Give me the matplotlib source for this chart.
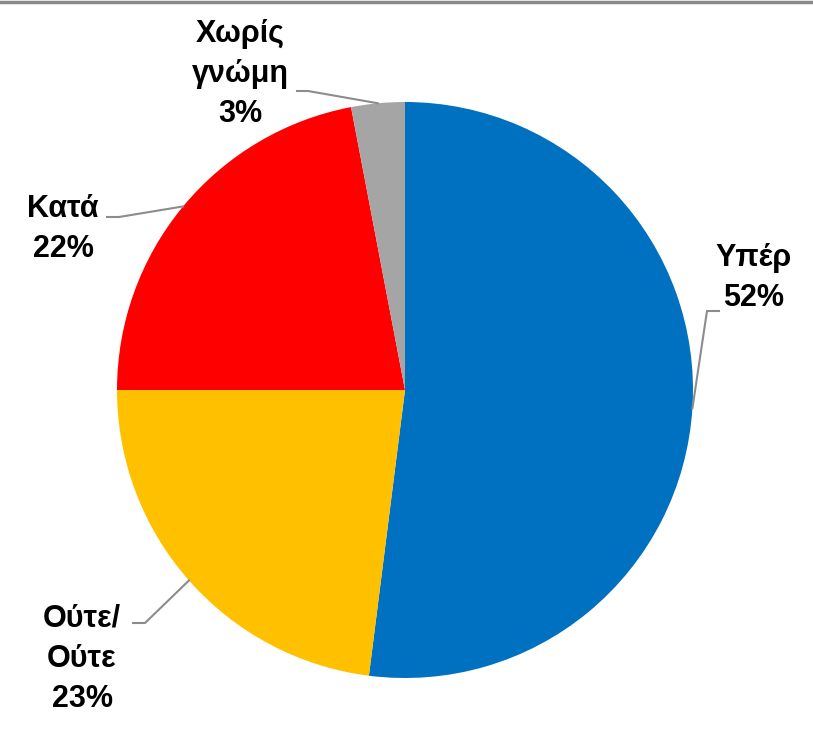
import numpy as np
import matplotlib.pyplot as plt
from matplotlib.lines import Line2D

# Data
categories = ["Υπέρ", "Ούτε/\nΟύτε", "Κατά", "Χωρίς\nγνώμη"]
values = [52, 23, 22, 3]
colors = ["#0070C0", "#FFC000", "#FF0000", "#A5A5A5"]

# Label placement (pixel positions in the 813x750 canvas): text centre, leader start, elbow
W, H = 813, 750
CX, CY, R = 405, 390, 288
label_xy = [(754, 278), (82, 659), (63, 229), (240, 74)]
leader_start = [(719, 311), (133, 623), (107, 217), (297, 91)]
leader_elbow = [(707, 311), (145, 623), (119, 217), (308, 91)]


def to_data(p):
    return ((p[0] - CX) / R, (CY - p[1]) / R)


plt.rcParams['font.family'] = ['Liberation Sans', 'DejaVu Sans']

fig = plt.figure(figsize=(W / 100, H / 100), dpi=100)
ax = fig.add_axes([(CX - R) / W, (H - CY - R) / H, 2 * R / W, 2 * R / H])

wedges, _ = ax.pie(values, colors=colors, startangle=90, counterclock=False,
                   radius=1, wedgeprops=dict(linewidth=0))
ax.set_xlim(-1, 1)
ax.set_ylim(-1, 1)
ax.set_aspect('equal')
ax.axis('off')

# Labels and leader lines
for w, cat, val, lxy, s, e in zip(wedges, categories, values, label_xy,
                                  leader_start, leader_elbow):
    mid = np.deg2rad((w.theta1 + w.theta2) / 2)
    tip = (np.cos(mid), np.sin(mid))
    tx, ty = to_data(lxy)
    ax.text(tx, ty, f"{cat}\n{val}%", ha='center', va='center',
            fontsize=22, fontweight='bold', linespacing=1.45, clip_on=False)
    sx, sy = to_data(s)
    ex, ey = to_data(e)
    ax.plot([sx, ex, tip[0]], [sy, ey, tip[1]], color='#8C8C8C', lw=1.5,
            clip_on=False, solid_joinstyle='miter')

# Top border line
fig.add_artist(Line2D([0, 1], [0.998, 0.998], color='#898989', lw=2.5,
                      transform=fig.transFigure))

fig.savefig('out.png', dpi=100)
